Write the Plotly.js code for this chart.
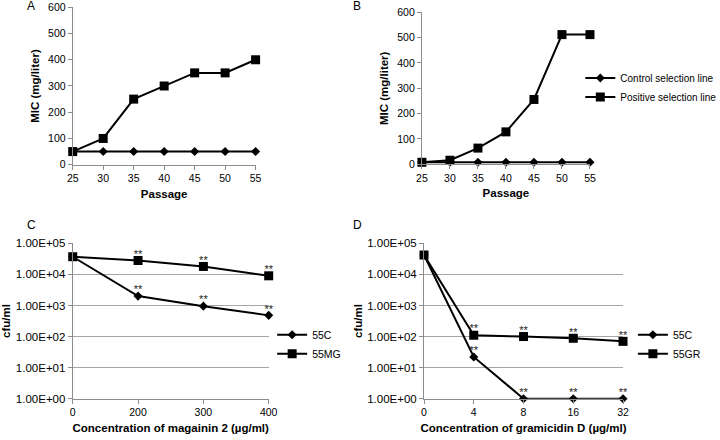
<!DOCTYPE html>
<html>
<head>
<meta charset="utf-8">
<script src="https://cdn.plot.ly/plotly-3.0.1.min.js"></script>
<style>html,body{margin:0;padding:0;background:#fff;}#chart{width:720px;height:440px;}</style>
</head>
<body>
<div id="chart"></div>
<script>
// ---- data ----
const passages = ['25','30','35','40','45','50','55'];
const aControl = [50,50,50,50,50,50,50];
const aPositive = [50,100,250,300,350,350,400];
const bControl = [8,8,8,8,8,8,8];
const bPositive = [8,16,64,128,256,512,512];
const cConc = ['0','200','300','400'];
const c55C = [37000,2000,950,480];
const c55MG = [37000,28000,18000,9000];
const cStars55C = ['','**','**','**'];
const cStars55MG = ['','**','**','**'];
const dConc = ['0','4','8','16','32'];
const d55C = [42000,22,1,1,1];
const d55GR = [42000,110,100,88,70];
const dStars55C = ['','**','**','**','**'];
const dStars55GR = ['','**','**','**','**'];
const logTickVals = [1,10,100,1000,10000,100000];
const logTickText = ['1.00E+00','1.00E+01','1.00E+02','1.00E+03','1.00E+04','1.00E+05'];
const micTicks = [0,100,200,300,400,500,600];

const FONT = 'Liberation Sans, Arial, sans-serif';
const AX = '#8c8c8c';
const diamond = {symbol:'diamond', size:7, color:'#000'};
const square = {symbol:'square', size:9, color:'#000'};
const ln = {color:'#000', width:2};

function line(x, y, name, mk, xa, ya, legend, show){
  return {x:x, y:y, name:name, type:'scatter', mode:'lines+markers', marker:mk, line:ln,
    xaxis:xa, yaxis:ya, legend:legend, showlegend:show, cliponaxis:false, hoverinfo:'skip'};
}
function stars(x, y, t, xa, ya){
  return {x:x, y:y, text:t, type:'scatter', mode:'text', textposition:'top center',
    marker:{color:'#222'},
    textfont:{family:FONT, size:11, color:'#222'}, xaxis:xa, yaxis:ya, showlegend:false,
    cliponaxis:false, hoverinfo:'skip'};
}

const traces = [
  line(passages, aControl, 'Control selection line', diamond, 'x', 'y', 'legend', false),
  line(passages, aPositive, 'Positive selection line', square, 'x', 'y', 'legend', false),
  line(passages, bControl, 'Control selection line', diamond, 'x2', 'y2', 'legend', true),
  line(passages, bPositive, 'Positive selection line', square, 'x2', 'y2', 'legend', true),
  line(cConc, c55C, '55C', diamond, 'x3', 'y3', 'legend2', true),
  line(cConc, c55MG, '55MG', square, 'x3', 'y3', 'legend2', true),
  line(dConc, d55C, '55C', diamond, 'x4', 'y4', 'legend3', true),
  line(dConc, d55GR, '55GR', square, 'x4', 'y4', 'legend3', true),
  stars(cConc, c55C, cStars55C, 'x3', 'y3'),
  stars(cConc, c55MG, cStars55MG, 'x3', 'y3'),
  stars(dConc, d55C, dStars55C, 'x4', 'y4'),
  stars(dConc, d55GR, dStars55GR, 'x4', 'y4')
];

function xAxis(dom, anchor, n, title){
  return {domain:dom, anchor:anchor, type:'category', range:[0,n-1], showline:true, linecolor:AX, linewidth:1,
    ticks:'outside', ticklen:4, tickcolor:AX, showgrid:false, zeroline:false, automargin:false,
    tickfont:{family:FONT, size:10.5, color:'#000'},
    title:{text:title, font:{family:FONT, size:11.5, color:'#000'}, standoff:6}};
}
function yLin(dom, anchor){
  return {domain:dom, anchor:anchor, range:[0,600], tickvals:micTicks, showline:true, linecolor:AX, linewidth:1,
    ticks:'outside', ticklen:4, tickcolor:AX, showgrid:false, zeroline:false, automargin:false,
    tickfont:{family:FONT, size:10.5, color:'#000'},
    title:{text:'<b>MIC (mg/liter)</b>', font:{family:FONT, size:11.5, color:'#000'}, standoff:6}};
}
function yLog(dom, anchor){
  return {domain:dom, anchor:anchor, type:'log', range:[0,5], tickvals:logTickVals, ticktext:logTickText,
    showline:true, linecolor:AX, linewidth:1, ticks:'outside', ticklen:4, tickcolor:AX,
    showgrid:true, gridcolor:'#a6a6a6', gridwidth:1, zeroline:false, automargin:false,
    tickfont:{family:FONT, size:11.5, color:'#000'},
    title:{text:'<b>cfu/ml</b>', font:{family:FONT, size:11.5, color:'#000'}, standoff:2}};
}

const layout = {
  width:720, height:440, margin:{l:0,r:0,t:0,b:0,autoexpand:false}, paper_bgcolor:'#fff', plot_bgcolor:'#fff',
  colorway:['#222'],
  font:{family:FONT, size:11, color:'#000'},
  xaxis: xAxis([0.101,0.355], 'y', passages.length, '<b>Passage</b>'),
  yaxis: yLin([0.6257,0.9834], 'x'),
  xaxis2: xAxis([0.586,0.8194], 'y2', passages.length, '<b>Passage</b>'),
  yaxis2: yLin([0.6266,0.972], 'x2'),
  xaxis3: xAxis([0.101,0.3732], 'y3', cConc.length, '<b>Concentration of magainin 2 (µg/ml)</b>'),
  yaxis3: yLog([0.0939,0.447], 'x3'),
  xaxis4: xAxis([0.5889,0.8653], 'y4', dConc.length, '<b>Concentration of gramicidin D (µg/ml)</b>'),
  yaxis4: yLog([0.0939,0.447], 'x4'),
  legend:{x:0.806, y:0.801, xanchor:'left', yanchor:'middle', bgcolor:'rgba(0,0,0,0)', font:{family:FONT, size:10}, itemwidth:30},
  legend2:{x:0.378, y:0.2175, xanchor:'left', yanchor:'middle', bgcolor:'rgba(0,0,0,0)', font:{family:FONT, size:10.5}, itemwidth:30},
  legend3:{x:0.879, y:0.2175, xanchor:'left', yanchor:'middle', bgcolor:'rgba(0,0,0,0)', font:{family:FONT, size:10.5}, itemwidth:30},
  annotations:[
    {text:'A', x:31/720, y:1-6/440, xref:'paper', yref:'paper', showarrow:false, xanchor:'center', yanchor:'middle', font:{family:FONT, size:12}},
    {text:'B', x:357/720, y:1-6/440, xref:'paper', yref:'paper', showarrow:false, xanchor:'center', yanchor:'middle', font:{family:FONT, size:12}},
    {text:'C', x:31/720, y:1-225/440, xref:'paper', yref:'paper', showarrow:false, xanchor:'center', yanchor:'middle', font:{family:FONT, size:12}},
    {text:'D', x:357/720, y:1-225/440, xref:'paper', yref:'paper', showarrow:false, xanchor:'center', yanchor:'middle', font:{family:FONT, size:12}}
  ]
};

Plotly.newPlot('chart', traces, layout, {displayModeBar:false, staticPlot:true});
</script>
</body>
</html>
